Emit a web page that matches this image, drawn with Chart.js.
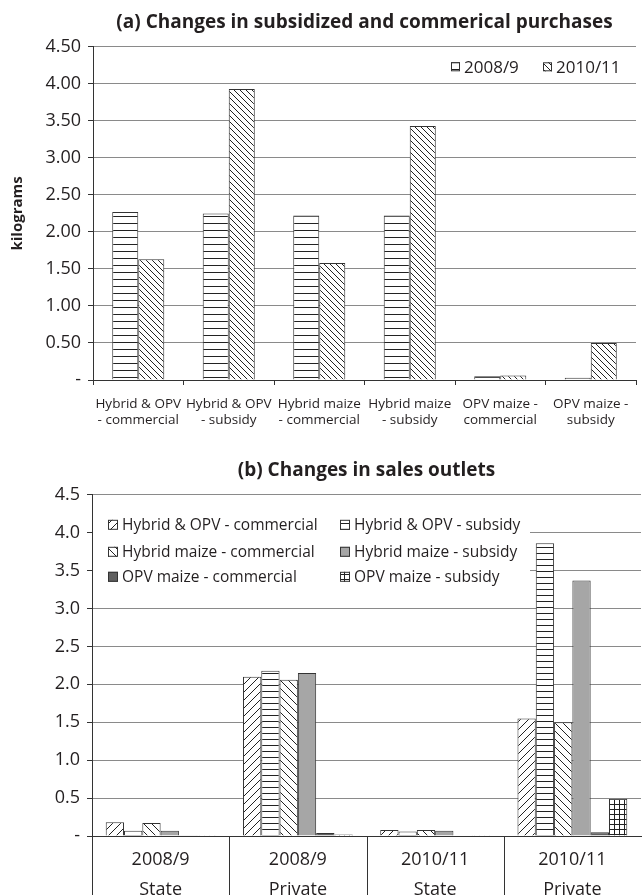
<!DOCTYPE html>
<html>
<head>
<meta charset="utf-8">
<title>Subsidized and commercial purchases</title>
<script src="https://cdn.jsdelivr.net/npm/chart.js@4.4.1/dist/chart.umd.min.js"></script>
<style>
  body { margin: 0; background: #fff; }
  .box { position: relative; width: 642px; }
  #boxA { height: 440px; }
  #boxB { height: 455px; }
</style>
</head>
<body>
<div class="box" id="boxA"><canvas id="chartA"></canvas></div>
<div class="box" id="boxB"><canvas id="chartB"></canvas></div>
<script>
// ---- (a) data ----
const catsA = [
  ['Hybrid & OPV', '- commercial'],
  ['Hybrid & OPV', '- subsidy'],
  ['Hybrid maize', '- commercial'],
  ['Hybrid maize', '- subsidy'],
  ['OPV maize -', 'commercial'],
  ['OPV maize -', 'subsidy']
];
const seriesA = ['2008/9', '2010/11'];
const vals0809 = [2.27, 2.25, 2.22, 2.22, 0.05, 0.03];
const vals1011 = [1.63, 3.93, 1.58, 3.43, 0.06, 0.50];
const ticksA = ['-', '0.50', '1.00', '1.50', '2.00', '2.50', '3.00', '3.50', '4.00', '4.50'];

// ---- (b) data ----
const catsB = [['2008/9', 'State'], ['2008/9', 'Private'], ['2010/11', 'State'], ['2010/11', 'Private']];
const seriesB = [
  'Hybrid & OPV - commercial', 'Hybrid & OPV - subsidy',
  'Hybrid maize - commercial', 'Hybrid maize - subsidy',
  'OPV maize - commercial', 'OPV maize - subsidy'
];
const hopvComm = [0.18, 2.10, 0.08, 1.55];
const hopvSub  = [0.07, 2.18, 0.06, 3.86];
const hmComm   = [0.17, 2.06, 0.08, 1.50];
const hmSub    = [0.07, 2.15, 0.07, 3.37];
const opvComm  = [0.01, 0.04, 0.00, 0.05];
const opvSub   = [0.01, 0.02, 0.01, 0.49];
const ticksB = ['-', '0.5', '1.0', '1.5', '2.0', '2.5', '3.0', '3.5', '4.0', '4.5'];

const FONT = '"Open Sans", sans-serif';
const INK = '#231f20';
const EDGE = '#333333';

// hatch fills built on a small tile
function hatch(kind, s) {
  const c = document.createElement('canvas');
  c.width = s; c.height = s;
  const g = c.getContext('2d');
  g.fillStyle = '#fff';
  g.fillRect(0, 0, s, s);
  g.strokeStyle = '#222';
  g.lineWidth = 1;
  g.beginPath();
  if (kind === 'h') {
    g.moveTo(0, s - 0.5); g.lineTo(s, s - 0.5);
  } else if (kind === 'grid') {
    g.moveTo(0, s - 0.5); g.lineTo(s, s - 0.5);
    g.moveTo(s - 0.5, 0); g.lineTo(s - 0.5, s);
  } else if (kind === 'back') {
    for (const k of [-s, 0, s]) { g.moveTo(k, 0); g.lineTo(k + s, s); }
  } else if (kind === 'fwd') {
    for (const k of [-s, 0, s]) { g.moveTo(k, s); g.lineTo(k + s, 0); }
  }
  g.stroke();
  return g.createPattern(c, 'repeat');
}

// legend drawn inside the plot, with the bar fills
const boxLegend = {
  id: 'boxLegend',
  afterDraw(chart, args, o) {
    const { ctx, chartArea: a } = chart;
    ctx.save();
    if (o.bg) {
      ctx.fillStyle = '#fff';
      ctx.fillRect(a.left + 1, a.top + o.bg[0], o.bg[1], o.bg[2]);
    }
    ctx.font = o.size + 'px ' + FONT;
    ctx.textBaseline = 'middle';
    chart.data.datasets.forEach((ds, i) => {
      const x = a.left + o.xs[i % o.xs.length];
      const y = a.top + o.ys[Math.floor(i / o.xs.length)];
      const b = o.box;
      ctx.fillStyle = ds.backgroundColor;
      ctx.fillRect(x, y - b / 2, b, b);
      ctx.strokeStyle = EDGE;
      ctx.lineWidth = 1;
      ctx.strokeRect(x + 0.5, y - b / 2 + 0.5, b - 1, b - 1);
      ctx.fillStyle = INK;
      ctx.fillText(ds.label, x + b + o.gap, y + 1);
    });
    ctx.restore();
  }
};

// category dividers below the x axis of chart (b)
const dividers = {
  id: 'dividers',
  afterDraw(chart) {
    const sx = chart.scales.x;
    const half = (sx.getPixelForValue(1) - sx.getPixelForValue(0)) / 2;
    const ctx = chart.ctx;
    ctx.save();
    ctx.strokeStyle = EDGE;
    ctx.lineWidth = 1;
    ctx.beginPath();
    for (let i = 0; i < catsB.length; i++) {
      const x = Math.round(sx.getPixelForValue(i) - half) + 0.5;
      ctx.moveTo(x, sx.top);
      ctx.lineTo(x, chart.height);
    }
    ctx.stroke();
    ctx.restore();
  }
};

const fillA = [hatch('h', 7), hatch('back', 6)];

new Chart(document.getElementById('chartA'), {
  type: 'bar',
  data: {
    labels: catsA,
    datasets: [
      { label: seriesA[0], data: vals0809, backgroundColor: fillA[0] },
      { label: seriesA[1], data: vals1011, backgroundColor: fillA[1] }
    ].map(d => Object.assign(d, {
      borderColor: EDGE, borderWidth: 1,
      categoryPercentage: 0.575, barPercentage: 1
    }))
  },
  options: {
    responsive: true,
    maintainAspectRatio: false,
    animation: false,
    layout: { padding: { right: 6 } },
    plugins: {
      legend: { display: false },
      tooltip: { enabled: false },
      title: {
        display: true,
        fullSize: false,
        text: '(a) Changes in subsidized and commerical purchases',
        color: INK,
        font: { family: FONT, size: 19, weight: 'bold' },
        padding: { top: 11, bottom: 13 }
      },
      boxLegend: { xs: [358, 450], ys: [20], box: 9, gap: 4, size: 17 }
    },
    scales: {
      x: {
        grid: { offset: true, drawOnChartArea: false, tickLength: 5, color: EDGE },
        border: { color: EDGE },
        ticks: { color: INK, font: { family: FONT, size: 13.5, lineHeight: 1.2 }, padding: 11, maxRotation: 0 },
        afterFit: s => { s.height = 60; }
      },
      y: {
        min: 0, max: 4.5,
        grid: { color: '#8a8a8a', tickLength: 5, tickColor: EDGE },
        border: { color: EDGE },
        ticks: {
          stepSize: 0.5, color: INK, padding: 7,
          font: { family: FONT, size: 18 },
          callback: (v, i) => ticksA[i]
        },
        title: {
          display: true, text: 'kilograms', color: INK,
          font: { family: FONT, size: 15, weight: 'bold' },
          padding: { top: 9, bottom: 0 }
        },
        afterFit: s => { s.width = 93; }
      }
    }
  },
  plugins: [boxLegend]
});

const fillB = [hatch('fwd', 8), hatch('h', 6), hatch('back', 8), '#a6a6a6', '#606060', hatch('grid', 5)];
const valsB = [hopvComm, hopvSub, hmComm, hmSub, opvComm, opvSub];

new Chart(document.getElementById('chartB'), {
  type: 'bar',
  data: {
    labels: catsB,
    datasets: seriesB.map((name, i) => ({
      label: name,
      data: valsB[i],
      backgroundColor: fillB[i],
      borderColor: EDGE, borderWidth: 1,
      categoryPercentage: 0.8, barPercentage: 1
    }))
  },
  options: {
    responsive: true,
    maintainAspectRatio: false,
    animation: false,
    layout: { padding: { right: 1 } },
    plugins: {
      legend: { display: false },
      tooltip: { enabled: false },
      title: {
        display: true,
        fullSize: false,
        text: '(b) Changes in sales outlets',
        color: INK,
        font: { family: FONT, size: 19, weight: 'bold' },
        padding: { top: 19, bottom: 13 }
      },
      boxLegend: { xs: [16, 248], ys: [30, 57, 82], box: 10, gap: 4, size: 15.5, bg: [16, 437, 80] }
    },
    scales: {
      x: {
        grid: { display: false },
        border: { color: EDGE },
        ticks: { color: INK, font: { family: FONT, size: 18, lineHeight: 1.67 }, padding: 1, maxRotation: 0 },
        afterFit: s => { s.height = 59; }
      },
      y: {
        min: 0, max: 4.5,
        grid: { color: '#8a8a8a', tickLength: 5, tickColor: EDGE },
        border: { color: EDGE },
        ticks: {
          stepSize: 0.5, color: INK, padding: 7,
          font: { family: FONT, size: 18 },
          callback: (v, i) => ticksB[i]
        },
        afterFit: s => { s.width = 92; }
      }
    }
  },
  plugins: [boxLegend, dividers]
});
</script>
</body>
</html>
